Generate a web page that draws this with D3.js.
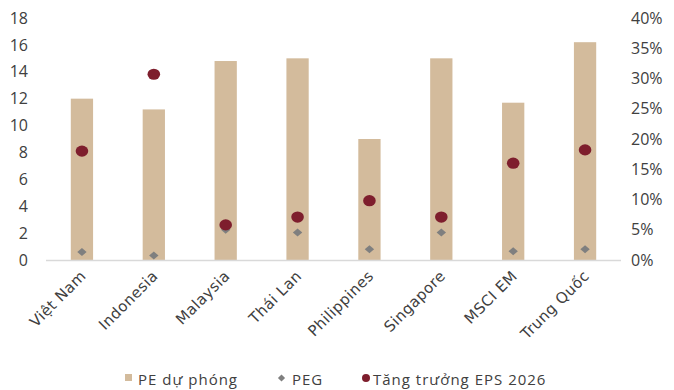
<!DOCTYPE html>
<html><head><meta charset="utf-8">
<script src="https://cdn.jsdelivr.net/npm/d3@7"></script>
<style>body{margin:0;background:#fff}svg{display:block}text{font-family:"Open Sans",sans-serif;fill:#404040}
.lab{font-family:"DejaVu Sans",sans-serif;}</style>
</head><body><svg id="c" width="674" height="390"></svg>
<script>
const categories=["Việt Nam","Indonesia","Malaysia","Thái Lan","Philippines","Singapore","MSCI EM","Trung Quốc"];
const peForward=[12.0,11.2,14.8,15.0,9.0,15.0,11.7,16.2];
const peg=[0.6,0.33,2.25,2.05,0.8,2.05,0.65,0.8];
const epsGrowth2026=[0.18,0.307,0.058,0.071,0.098,0.071,0.16,0.182];
const leftTicks=[0,2,4,6,8,10,12,14,16,18];
const rightTicks=[0,0.05,0.1,0.15,0.2,0.25,0.3,0.35,0.4];
const legendLabels=["PE dự phóng","PEG","Tăng trưởng EPS 2026"];

const svg=d3.select("#c");
const x=d3.scaleBand().domain(categories).range([46,621]).paddingInner(0.69).paddingOuter(0.345);
const yL=d3.scaleLinear().domain([0,18]).range([260,18]);
const yR=d3.scaleLinear().domain([0,0.4]).range([260,18]);
const tan="#D3BB9C",red="#7E1E2D",gray="#7F7F7F";

// bars
svg.append("g").selectAll("rect").data(categories).join("rect")
 .attr("x",d=>x(d)).attr("width",x.bandwidth())
 .attr("y",(d,i)=>yL(peForward[i])).attr("height",(d,i)=>yL(0)-yL(peForward[i]))
 .attr("fill",tan);

// baseline
svg.append("line").attr("x1",46).attr("x2",621).attr("y1",yL(0)+0.5).attr("y2",yL(0)+0.5)
 .attr("stroke","#D9D9D9").attr("stroke-width",1.5);

// PEG diamonds
const dsym=d3.symbol().type(d3.symbolSquare).size(44);
svg.append("g").selectAll("path").data(categories).join("path")
 .attr("d",dsym)
 .attr("transform",(d,i)=>`translate(${x(d)+x.bandwidth()/2},${yL(peg[i])}) scale(1,0.85) rotate(45)`)
 .attr("fill",gray);

// EPS dots
svg.append("g").selectAll("ellipse").data(categories).join("ellipse")
 .attr("cx",d=>x(d)+x.bandwidth()/2).attr("cy",(d,i)=>yR(epsGrowth2026[i]))
 .attr("rx",6.3).attr("ry",5.6).attr("fill",red);

// left axis
const gl=svg.append("g").attr("transform","translate(28,0)")
 .call(d3.axisLeft(yL).tickValues(leftTicks).tickSize(0).tickPadding(0).tickFormat(d3.format("d")));
gl.select(".domain").remove();
gl.selectAll("text").style("font-size","16px").attr("fill","#404040");

// right axis
const gr=svg.append("g").attr("transform","translate(631,0)")
 .call(d3.axisRight(yR).tickValues(rightTicks).tickSize(0).tickPadding(0).tickFormat(d3.format(".0%")));
gr.select(".domain").remove();
gr.selectAll("text").style("font-size","16px").attr("fill","#404040");

// category labels
svg.append("g").selectAll("text").data(categories).join("text")
 .attr("class","lab")
 .attr("transform",d=>`translate(${x(d)+x.bandwidth()/2+5},277) rotate(-45)`)
 .attr("text-anchor","end").style("font-size","15px").style("letter-spacing","0.4px").text(d=>d);

// legend
const lg=svg.append("g").attr("class","lab").style("font-size","15px").style("letter-spacing","1px");
lg.append("rect").attr("x",125).attr("y",374).attr("width",7).attr("height",7).attr("fill",tan);
lg.append("text").attr("x",138).attr("y",385).text(legendLabels[0]);
lg.append("path").attr("d",d3.symbol().type(d3.symbolSquare).size(26))
 .attr("transform","translate(281.5,378) rotate(45)").attr("fill",gray);
lg.append("text").attr("x",292).attr("y",385).text(legendLabels[1]);
lg.append("circle").attr("cx",366).attr("cy",378).attr("r",4).attr("fill",red);
lg.append("text").attr("x",373).attr("y",385).text(legendLabels[2]);
</script></body></html>
